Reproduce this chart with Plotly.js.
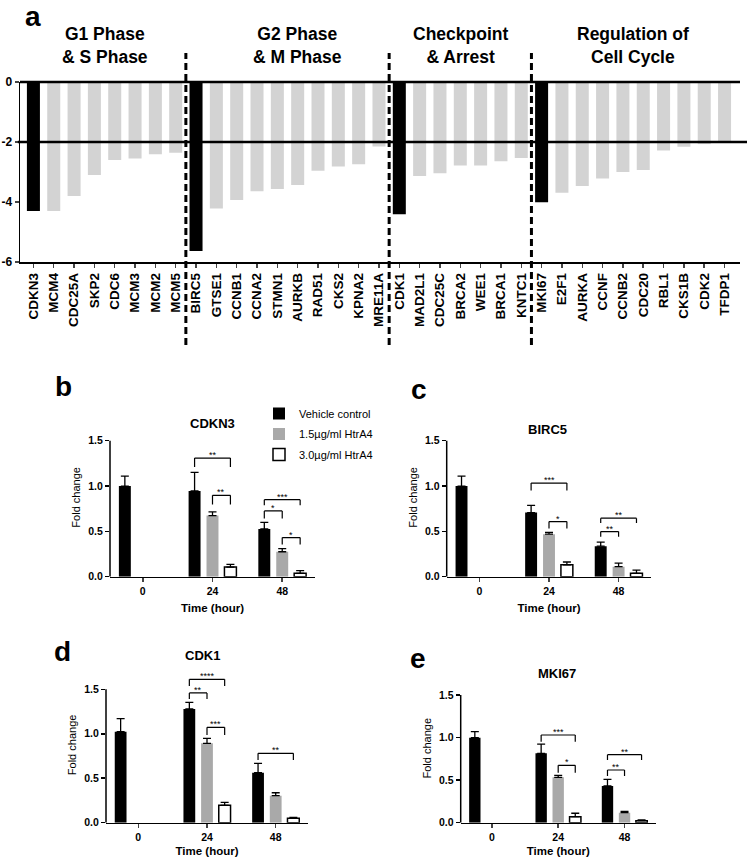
<!DOCTYPE html>
<html><head><meta charset="utf-8">
<script src="https://cdn.plot.ly/plotly-3.0.1.min.js"></script>
<style>html,body{margin:0;padding:0;background:#fff}#chart{width:748px;height:857px}</style>
</head><body><div id="chart"></div>
<script>
// ---------- Panel a: log2 fold change of cell-cycle genes ----------
const genes = ['CDKN3','MCM4','CDC25A','SKP2','CDC6','MCM3','MCM2','MCM5',
  'BIRC5','GTSE1','CCNB1','CCNA2','STMN1','AURKB','RAD51','CKS2','KPNA2','MRE11A',
  'CDK1','MAD2L1','CDC25C','BRCA2','WEE1','BRCA1','KNTC1',
  'MKI67','E2F1','AURKA','CCNF','CCNB2','CDC20','RBL1','CKS1B','CDK2','TFDP1'];
const log2FoldChange = [-4.30,-4.30,-3.80,-3.10,-2.60,-2.55,-2.41,-2.36,
  -5.63,-4.22,-3.93,-3.64,-3.57,-3.43,-2.96,-2.82,-2.74,-2.15,
  -4.41,-3.13,-3.04,-2.78,-2.78,-2.64,-2.53,
  -4.01,-3.69,-3.47,-3.22,-3.00,-2.93,-2.28,-2.16,-2.07,-2.02];
const highlightedGenes = ['CDKN3','BIRC5','CDK1','MKI67'];
const groupNames = ['G1 Phase<br>& S Phase','G2 Phase<br>& M Phase','Checkpoint<br>& Arrest','Regulation of<br>Cell Cycle'];
const groupSizes = [8,10,7,10];
const cutoffValue = -2;
const yTicksA = [0,-2,-4,-6];
const yTickTextA = ['0','-2','-4','-6'];

// ---------- Panels b-e: qPCR fold change ----------
const timeLabels = ['0','24','48'];
const seriesNames = ['Vehicle control','1.5µg/ml HtrA4','3.0µg/ml HtrA4'];
const panelLetters = ['b','c','d','e'];
const panelGenes = ['CDKN3','BIRC5','CDK1','MKI67'];
const yTicksSmall = [0,0.5,1,1.5];

// mean per series (rows: vehicle, 1.5, 3.0; cols: 0h, 24h, 48h)
const cdkn3Mean = [[1.00,0.945,0.527],[null,0.674,0.275],[null,0.106,0.037]];
const cdkn3Sem  = [[0.11,0.205,0.073],[null,0.040,0.035],[null,0.030,0.030]];
const birc5Mean = [[1.00,0.707,0.337],[null,0.469,0.110],[null,0.132,0.037]];
const birc5Sem  = [[0.11,0.080,0.045],[null,0.020,0.040],[null,0.030,0.035]];
const cdk1Mean  = [[1.024,1.279,0.562],[null,0.892,0.304],[null,0.195,0.049]];
const cdk1Sem   = [[0.146,0.075,0.105],[null,0.057,0.033],[null,0.034,0.011]];
const mki67Mean = [[0.999,0.815,0.431],[null,0.533,0.118],[null,0.071,0.024]];
const mki67Sem  = [[0.070,0.109,0.078],[null,0.023,0.016],[null,0.040,0.008]];

// significance brackets: [fromSeries, toSeries, timeIndex, yTop, yLegEnd, label]
const cdkn3Sig = [[0,2,1,1.308,1.209,'**'],[1,2,1,0.897,0.795,'**'],[0,2,2,0.850,0.787,'***'],[0,1,2,0.725,0.641,'*'],[1,2,2,0.432,0.355,'*']];
const birc5Sig = [[0,2,1,1.033,0.952,'***'],[1,2,1,0.608,0.531,'*'],[0,2,2,0.645,0.593,'**'],[0,1,2,0.498,0.440,'**']];
const cdk1Sig  = [[0,2,1,1.612,1.537,'****'],[0,1,1,1.459,1.391,'**'],[1,2,1,1.072,0.986,'***'],[0,2,2,0.780,0.705,'**']];
const mki67Sig = [[0,2,1,1.030,0.952,'***'],[1,2,1,0.674,0.588,'*'],[0,2,2,0.799,0.736,'**'],[0,1,2,0.619,0.548,'**']];

const panelMeans = [cdkn3Mean, birc5Mean, cdk1Mean, mki67Mean];
const panelSems = [cdkn3Sem, birc5Sem, cdk1Sem, mki67Sem];
const panelSigs = [cdkn3Sig, birc5Sig, cdk1Sig, mki67Sig];

// ---------- layout geometry (pixels) ----------
const W = 748, H = 857;
const px = p => p / W;
const py = p => 1 - p / H;
const FONT = 'Liberation Sans, Arial, sans-serif';
const BARGAP = 0.229, BARGROUPGAP = 0.333;
const seriesFill = ['#000000', '#a9a9a9', '#ffffff'];
const seriesLine = [0, 0, 1.5];

const geom = [
  {x: [110, 315], y0: 576.7, y15: 440.7, title: [213, 423], letter: [64, 386]},
  {x: [446.7, 651.3], y0: 576.7, y15: 440.7, title: [547, 430], letter: [419, 389]},
  {x: [106, 308], y0: 822.7, y15: 689.3, title: [203, 655], letter: [62, 651]},
  {x: [460.7, 655.7], y0: 822.7, y15: 695, title: [557, 673], letter: [418, 658]}
];
const YTOP = 1.75;

const traces = [];
const shapes = [];
const annotations = [];
const layout = {
  width: W, height: H,
  margin: {l: 0, r: 0, t: 0, b: 0},
  paper_bgcolor: '#fff', plot_bgcolor: 'rgba(0,0,0,0)',
  font: {family: FONT, color: '#000'},
  barmode: 'group', bargap: BARGAP, bargroupgap: BARGROUPGAP,
  showlegend: true,
  legend: {x: px(259), y: py(399), xanchor: 'left', yanchor: 'top',
    font: {size: 11, family: FONT}, bgcolor: 'rgba(0,0,0,0)',
    traceorder: 'grouped', tracegroupgap: 1.5, borderwidth: 0},
  shapes: shapes, annotations: annotations
};

// ----- panel a -----
traces.push({
  type: 'bar', x: genes, y: log2FoldChange, xaxis: 'x', yaxis: 'y',
  width: 0.64, showlegend: false,
  marker: {color: genes.map(g => highlightedGenes.includes(g) ? '#000000' : '#d3d3d3'), line: {width: 0}}
});
layout.xaxis = {
  domain: [px(20), px(740)], type: 'category', range: [-0.66, genes.length - 1 + 0.76],
  tickmode: 'linear', tick0: 0, dtick: 1, tickangle: -90,
  tickfont: {size: 13.5, family: FONT, weight: 'bold'},
  showline: true, linewidth: 1.5, linecolor: '#000', ticks: 'outside', ticklen: 4, tickwidth: 1.5,
  showgrid: false, zeroline: false, fixedrange: true
};
layout.yaxis = {
  domain: [py(262), py(82)], range: [-6, 0], tickmode: 'array', tickvals: yTicksA, ticktext: yTickTextA,
  tickfont: {size: 12, family: FONT, weight: 'bold'},
  showline: true, linewidth: 1.5, linecolor: '#000', ticks: 'outside', ticklen: 4, tickwidth: 1.5,
  showgrid: false, zeroline: false, fixedrange: true
};
// zero line and cutoff line
shapes.push({type: 'line', xref: 'x domain', yref: 'y domain', x0: 0, x1: 1, y0: 1, y1: 1, line: {color: '#000', width: 2.5}});
shapes.push({type: 'line', xref: 'x domain', yref: 'y', x0: -0.003, x1: (747 - 20) / 720, y0: cutoffValue, y1: cutoffValue, line: {color: '#000', width: 2.5}});
// group separators and headers
const headerShift = [0, 10, 0, 0];
let start = 0;
groupSizes.forEach((n, i) => {
  const end = start + n - 1;
  annotations.push({xref: 'x', yref: 'paper', x: (start + end) / 2, y: py(45.5), xshift: headerShift[i],
    text: groupNames[i], showarrow: false, xanchor: 'center', yanchor: 'middle',
    font: {size: 17.5, family: FONT, weight: 'bold'}, align: 'center'});
  if (i < groupSizes.length - 1) {
    shapes.push({type: 'line', xref: 'x', yref: 'paper', x0: end + 0.5, x1: end + 0.5, y0: py(345), y1: py(53),
      line: {color: '#000', width: 3, dash: '7px,4px'}});
  }
  start += n;
});
annotations.push({xref: 'paper', yref: 'paper', x: px(33), y: 1, text: 'a', showarrow: false,
  xanchor: 'center', yanchor: 'top', borderpad: 0, font: {size: 28, family: FONT, weight: 'bold'}});

// ----- panels b-e -----
const slot = (1 - BARGAP) / 3;
const offs = [-slot, 0, slot];
panelGenes.forEach((gene, p) => {
  const k = p + 2;
  const xa = 'x' + k, ya = 'y' + k;
  const g = geom[p];
  const unit = (g.y0 - g.y15) / 1.5;
  const top = g.y0 - YTOP * unit;
  layout['xaxis' + k] = {
    domain: [px(g.x[0]), px(g.x[1])], type: 'category', range: [-0.47, 2.47], anchor: ya,
    tickfont: {size: 10.5, family: FONT, weight: 'bold'},
    showline: true, linewidth: 1.5, linecolor: '#000', ticks: 'outside', ticklen: 4, tickwidth: 1.5,
    showgrid: false, zeroline: false, fixedrange: true,
    title: {text: 'Time (hour)', font: {size: 11.5, family: FONT, weight: 'bold'}, standoff: 8}
  };
  layout['yaxis' + k] = {
    domain: [py(g.y0), py(top)], range: [0, YTOP], anchor: xa,
    tickmode: 'array', tickvals: yTicksSmall, tickformat: '.1f',
    tickfont: {size: 10.5, family: FONT, weight: 'bold'},
    showline: false, ticks: 'outside', ticklen: 4, tickwidth: 1.5, tickcolor: '#000',
    showgrid: false, zeroline: false, fixedrange: true,
    title: {text: 'Fold change', font: {size: 11, family: FONT}, standoff: 5}
  };
  shapes.push({type: 'line', xref: xa + ' domain', yref: ya, x0: 0, x1: 0, y0: 0, y1: yTicksSmall[yTicksSmall.length - 1],
    line: {color: '#000', width: 1.5}});
  const mean = panelMeans[p], sem = panelSems[p];
  seriesNames.forEach((name, s) => {
    traces.push({
      type: 'bar', x: timeLabels, y: mean[s], xaxis: xa, yaxis: ya,
      name: name, legendgroup: 'g' + s, showlegend: p === 0,
      marker: {color: seriesFill[s], line: {color: '#000', width: seriesLine[s]}},
      error_y: {type: 'data', symmetric: false, array: sem[s], arrayminus: sem[s].map(() => 0),
        color: '#000', thickness: 1.3, width: 4}
    });
  });
  panelSigs[p].forEach(([a, b, t, yt, yb, label]) => {
    const xa0 = t + offs[a], xa1 = t + offs[b];
    const ln = {color: '#000', width: 1.2};
    shapes.push({type: 'line', xref: xa, yref: ya, x0: xa0, x1: xa0, y0: yb, y1: yt, line: ln});
    shapes.push({type: 'line', xref: xa, yref: ya, x0: xa0, x1: xa1, y0: yt, y1: yt, line: ln});
    shapes.push({type: 'line', xref: xa, yref: ya, x0: xa1, x1: xa1, y0: yt, y1: yb, line: ln});
    annotations.push({xref: xa, yref: ya, x: (xa0 + xa1) / 2, y: yt, text: label, showarrow: false,
      xanchor: 'center', yanchor: 'bottom', yshift: -4, font: {size: 9, family: FONT}});
  });
  annotations.push({xref: 'paper', yref: 'paper', x: px(g.title[0]), y: py(g.title[1]), text: gene,
    showarrow: false, xanchor: 'center', yanchor: 'middle', font: {size: 13, family: FONT, weight: 'bold'}});
  annotations.push({xref: 'paper', yref: 'paper', x: px(g.letter[0]), y: py(g.letter[1]), text: panelLetters[p],
    showarrow: false, xanchor: 'center', yanchor: 'middle', font: {size: 28, family: FONT, weight: 'bold'}});
});

Plotly.newPlot('chart', traces, layout, {staticPlot: true, displayModeBar: false});
</script>
</body></html>
